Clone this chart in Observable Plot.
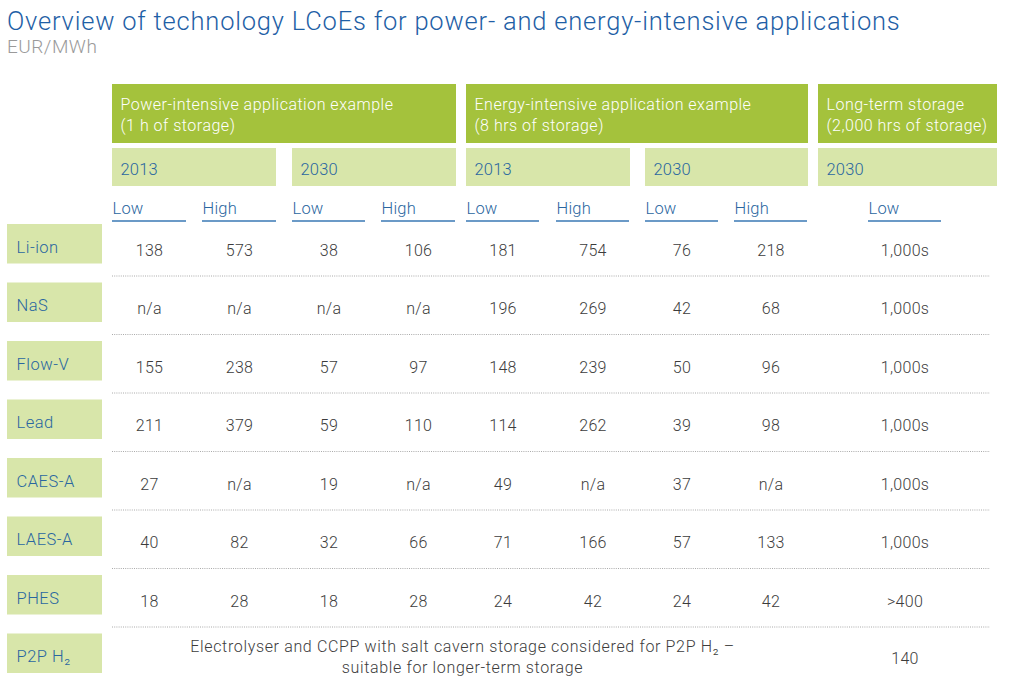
<!DOCTYPE html>
<html>
<head>
<meta charset="utf-8">
<script src="https://cdn.jsdelivr.net/npm/d3@7"></script>
<script src="https://cdn.jsdelivr.net/npm/@observablehq/plot@0.6"></script>
<style>
  html, body { margin: 0; padding: 0; background: #ffffff; }
  body { width: 1024px; height: 690px; overflow: hidden; font-family: Roboto, "Liberation Sans", sans-serif; }
  #head { position: relative; height: 64px; }
  #title { position: absolute; left: 7px; top: 8px; font-size: 25.5px; line-height: 26px; font-weight: 300; letter-spacing: 0.8px; color: #1f5fa6; white-space: nowrap; }
  #subtitle { position: absolute; left: 7px; top: 36.5px; font-size: 19px; line-height: 20px; font-weight: 300; letter-spacing: 0.5px; color: #9a9a9a; }
  #chart svg { display: block; }
</style>
</head>
<body>
<div id="head">
  <div id="title">Overview of technology LCoEs for power- and energy-intensive applications</div>
  <div id="subtitle">EUR/MWh</div>
</div>
<div id="chart"></div>
<script>
// ---------- DATA ----------
const technologies = ["Li-ion", "NaS", "Flow-V", "Lead", "CAES-A", "LAES-A", "PHES", "P2P H₂"];
const columnGroups = [
  "Power-intensive application example\n(1 h of storage)",
  "Energy-intensive application example\n(8 hrs of storage)",
  "Long-term storage\n(2,000 hrs of storage)"
];
const years = ["2013", "2030", "2013", "2030", "2030"];
const estimateLabels = ["Low", "High", "Low", "High", "Low", "High", "Low", "High", "Low"];
// values for the first seven technologies (null = n/a)
const power2013Low   = [138, null, 155, 211, 27, 40, 18];
const power2013High  = [573, null, 238, 379, null, 82, 28];
const power2030Low   = [38, null, 57, 59, 19, 32, 18];
const power2030High  = [106, null, 97, 110, null, 66, 28];
const energy2013Low  = [181, 196, 148, 114, 49, 71, 24];
const energy2013High = [754, 269, 239, 262, null, 166, 42];
const energy2030Low  = [76, 42, 50, 39, 37, 57, 24];
const energy2030High = [218, 68, 96, 98, null, 133, 42];
const longTermLow    = ["1,000s", "1,000s", "1,000s", "1,000s", "1,000s", "1,000s", ">400", "140"];
const p2pNote = "Electrolyser and CCPP with salt cavern storage considered for P2P H₂ –\nsuitable for longer-term storage";

// ---------- LAYOUT ----------
const OFF = 64;                 // svg top in page coordinates
const W = 1024, H = 690 - OFF;
const C = {
  dark: "#a4c23c", light: "#d8e6aa", blue: "#2a66a0", line: "#3a78b5",
  value: "#3c3c3c", dots: "#aaaaaa"
};
const groupX = [[112, 456], [466, 808], [818, 997]];
const yearX = [[112, 276], [292, 456], [466, 630], [645, 808], [818, 997]];
const underX = [[112, 186], [202, 276], [292, 365], [381, 455], [466, 539], [556, 629], [645, 718], [734, 807], [868, 941]];
const groupY = [84, 143], yearY = [148, 186];
const lhBase = 213, underY = 220.5;
const row0 = 224, rowStep = 58.5, rowH = 39.5;
const labelX = [7, 102];
const ruleX = [112, 990];
const py = v => v - OFF;
const rowTop = i => row0 + i * rowStep;
const colCenter = j => (underX[j][0] + underX[j][1]) / 2;

// build tables
const valueSeries = [power2013Low, power2013High, power2030Low, power2030High,
  energy2013Low, energy2013High, energy2030Low, energy2030High];
const cells = [];
technologies.forEach((t, i) => {
  if (i < valueSeries[0].length) {
    valueSeries.forEach((s, j) => {
      const v = s[i];
      cells.push({x: colCenter(j), y: py(rowTop(i) + 31), text: v == null ? "n/a" : String(v)});
    });
  }
  cells.push({x: colCenter(8), y: py(rowTop(i) + (i < 7 ? 31 : 29.5)), text: longTermLow[i]});
});
const groups = columnGroups.map((g, i) => ({x1: groupX[i][0], x2: groupX[i][1], text: g}));
const yrs = years.map((y, i) => ({x1: yearX[i][0], x2: yearX[i][1], text: y}));
const est = estimateLabels.map((l, i) => ({x1: underX[i][0], x2: underX[i][1], text: l}));
const rows = technologies.map((t, i) => ({t, top: py(rowTop(i)), bottom: py(rowTop(i) + rowH)}));
const dots = technologies.slice(1).map((t, i) => ({y: py(rowTop(i + 1) - 7)}));
const lastTop = rowTop(technologies.length - 1);
const noteCx = (groupX[0][0] + groupX[1][1]) / 2 + 2;

const font = "Roboto, 'Liberation Sans', sans-serif";
const chart = Plot.plot({
  width: W, height: H, margin: 0, axis: null,
  x: {type: "identity"}, y: {type: "identity"},
  style: {fontFamily: font, background: "#ffffff", overflow: "visible"},
  marks: [
    // group headers
    Plot.rect(groups, {x1: "x1", x2: "x2", y1: py(groupY[0]), y2: py(groupY[1]), fill: C.dark}),
    Plot.text(groups, {x: d => d.x1 + 8, y: py(groupY[0] + 46), text: "text", textAnchor: "start", lineAnchor: "bottom",
      lineHeight: 1.3, fill: "#ffffff", fontSize: 16, fontWeight: 300, className: "sp5"}),
    // year headers
    Plot.rect(yrs, {x1: "x1", x2: "x2", y1: py(yearY[0]), y2: py(yearY[1]), fill: C.light}),
    Plot.text(yrs, {x: d => d.x1 + 8, y: py(yearY[0] + 26), text: "text", textAnchor: "start", lineAnchor: "bottom",
      fill: C.blue, fontSize: 16.5, fontWeight: 300, className: "sp2"}),
    // low / high
    Plot.text(est, {x: "x1", y: py(lhBase), text: "text", textAnchor: "start", lineAnchor: "bottom",
      fill: C.blue, fontSize: 16.5, fontWeight: 300, className: "sp2"}),
    Plot.ruleY(est, {x1: "x1", x2: "x2", y: py(underY), stroke: C.line, strokeWidth: 1.5}),
    // row labels
    Plot.rect(rows, {x1: labelX[0], x2: labelX[1], y1: "top", y2: "bottom", fill: C.light}),
    Plot.text(rows, {x: labelX[0] + 9, y: d => d.top + 28, text: "t", textAnchor: "start", lineAnchor: "bottom",
      fill: C.blue, fontSize: 16.5, fontWeight: 300, className: "sp5"}),
    // dotted separators
    Plot.ruleY(dots, {y: "y", x1: ruleX[0], x2: ruleX[1], stroke: C.dots, strokeWidth: 1, strokeDasharray: "1,1.2"}),
    // values
    Plot.text(cells, {x: "x", y: "y", text: "text", textAnchor: "middle", lineAnchor: "bottom",
      fill: C.value, fontSize: 16, fontWeight: 300, className: "sp3"}),
    // P2P note
    Plot.text([p2pNote], {x: noteCx, y: py(lastTop + 39), text: d => d, textAnchor: "middle", lineAnchor: "bottom",
      lineHeight: 1.3, fill: C.value, fontSize: 16, fontWeight: 300, className: "sp65"})
  ]
});
const css = document.createElement("style");
css.textContent = ".sp2 text{letter-spacing:0.2px}.sp3 text{letter-spacing:0.3px}.sp5 text{letter-spacing:0.5px}.sp65 text{letter-spacing:0.65px}";
document.head.appendChild(css);
document.getElementById("chart").appendChild(chart);
</script>
</body>
</html>
